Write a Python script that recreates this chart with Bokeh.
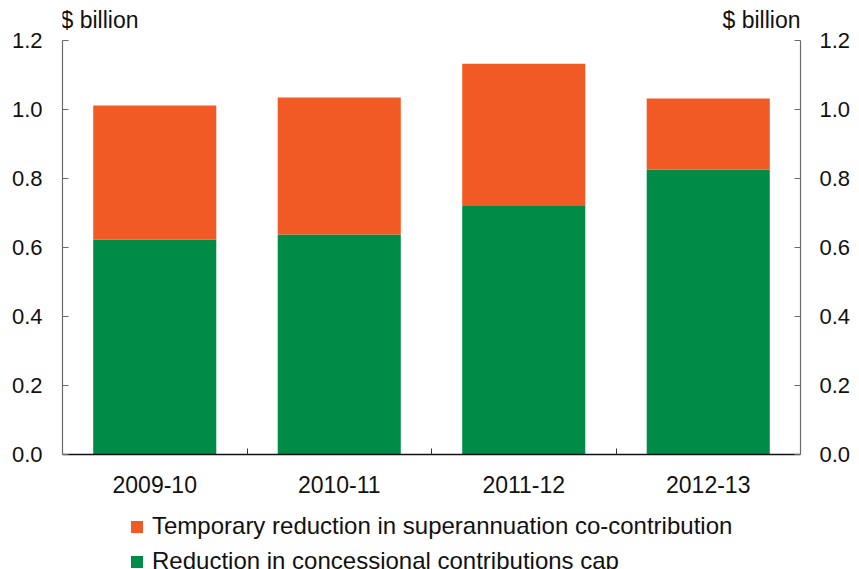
from bokeh.plotting import figure
from bokeh.models import (ColumnDataSource, FixedTicker, LinearAxis, Legend, LegendItem,
                          Label, NumeralTickFormatter, Range1d)
from bokeh.embed import file_html
from bokeh.resources import INLINE

categories = ["2009-10", "2010-11", "2011-12", "2012-13"]
concessional_cap = [0.623, 0.638, 0.720, 0.826]
co_contribution = [0.389, 0.397, 0.413, 0.206]
y_ticks = [0.0, 0.2, 0.4, 0.6, 0.8, 1.0, 1.2]
unit_label = "$ billion"
series_names = ["Temporary reduction in superannuation co-contribution",
                "Reduction in concessional contributions cap"]

ORANGE = "#F15A24"
GREEN = "#008C46"
FONT = "Liberation Sans"

xpos = [i + 0.5 for i in range(len(categories))]
source = ColumnDataSource(dict(x=xpos, cap=concessional_cap, co=co_contribution))

p = figure(width=859, height=569, x_range=Range1d(0, len(categories)),
           y_range=Range1d(-0.3333, 1.316),
           output_backend="svg", toolbar_location=None,
           min_border_left=62, min_border_right=59, min_border_top=0, min_border_bottom=0,
           x_axis_location=None)
p.outline_line_color = None
p.xgrid.visible = False
p.ygrid.visible = False

renderers = p.vbar_stack(["cap", "co"], x="x", width=0.667, color=[GREEN, ORANGE],
                         line_color=None, source=source)

def style_y(ax):
    ax.ticker = FixedTicker(ticks=y_ticks)
    ax.bounds = (0, 1.2)
    ax.formatter = NumeralTickFormatter(format="0.0")
    ax.major_tick_in = 6
    ax.major_tick_out = 0
    ax.minor_tick_in = 0
    ax.minor_tick_out = 0
    ax.axis_line_color = "#6b6b6b"
    ax.axis_line_width = 1.2
    ax.major_tick_line_color = "#6b6b6b"
    ax.major_tick_line_width = 1.2
    ax.major_label_text_font = FONT
    ax.major_label_text_font_size = "22px"
    ax.major_label_text_color = "#111111"
    ax.major_label_standoff = 20

style_y(p.yaxis[0])
right = LinearAxis()
style_y(right)
right.major_label_standoff = 19
p.add_layout(right, "right")

xa = LinearAxis(fixed_location=0)
xa.ticker = FixedTicker(ticks=xpos, minor_ticks=list(range(1, len(categories))))
xa.major_label_overrides = {x: c for x, c in zip(xpos, categories)}
xa.major_tick_in = 0
xa.major_tick_out = 0
xa.minor_tick_in = 6
xa.minor_tick_out = 0
xa.minor_tick_line_color = "#333333"
xa.axis_line_color = "#111111"
xa.axis_line_width = 1.6
xa.major_label_text_font = FONT
xa.major_label_text_font_size = "23px"
xa.major_label_text_color = "#111111"
xa.major_label_standoff = 21
p.add_layout(xa, "below")

p.add_layout(Label(x=0, y=1.2, x_offset=-2, y_offset=8, text=unit_label, text_font=FONT,
                   text_font_size="23px", text_align="left", text_baseline="bottom",
                   text_color="#111111"))
p.add_layout(Label(x=len(categories), y=1.2, x_offset=0, y_offset=8, text=unit_label,
                   text_font=FONT, text_font_size="23px", text_align="right",
                   text_baseline="bottom", text_color="#111111"))

legend = Legend(items=[LegendItem(label=series_names[0], renderers=[renderers[1]]),
                       LegendItem(label=series_names[1], renderers=[renderers[0]])],
                location=(67, -6), orientation="vertical",
                glyph_width=15, glyph_height=15, label_standoff=8, spacing=7,
                label_height=24, padding=0, margin=0, border_line_color=None,
                background_fill_alpha=0, label_text_font=FONT, label_text_font_size="24px",
                label_text_color="#111111")
p.add_layout(legend, "center")

open("out.html", "w").write(file_html(p, INLINE))
